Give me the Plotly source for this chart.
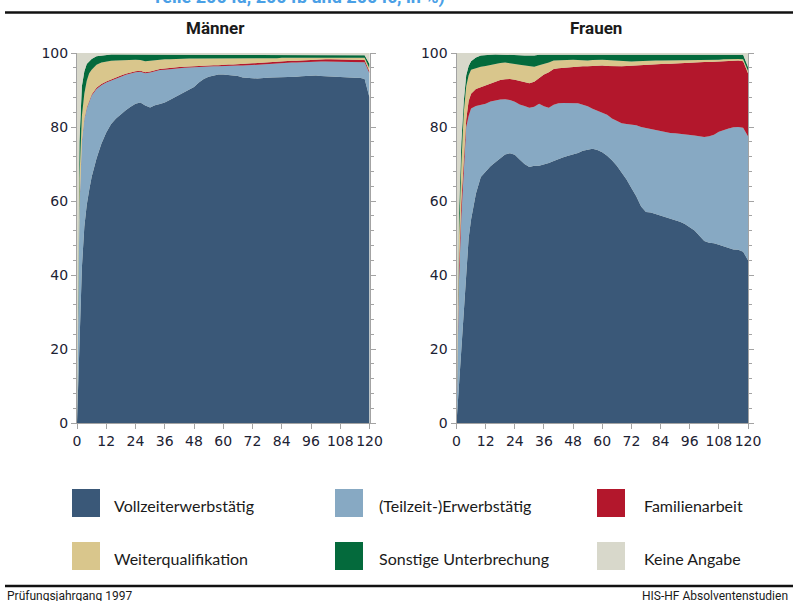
import plotly.graph_objects as go

W, H = 793, 601

# Monate nach Studienabschluss
monate = [0, 1, 2, 3, 4, 5, 6, 8, 10, 12, 14, 16, 18, 20, 22, 24, 26, 28, 30, 32,
          34, 36, 38, 40, 42, 44, 46, 48, 50, 52, 54, 56, 58, 60, 62, 64, 66, 68,
          70, 72, 74, 76, 78, 80, 82, 84, 86, 88, 90, 92, 94, 96, 98, 100, 102,
          104, 106, 108, 110, 112, 114, 116, 118, 120]

serien = ["Vollzeiterwerbstätig", "(Teilzeit-)Erwerbstätig", "Familienarbeit",
          "Weiterqualifikation", "Sonstige Unterbrechung", "Keine Angabe"]
farben = ["#3A5878", "#87A9C3", "#B3172C", "#D9C68C", "#046A3C", "#D8D8CB"]

panel_titel = ["Männer", "Frauen"]
x_ticks = [0, 12, 24, 36, 48, 60, 72, 84, 96, 108, 120]
y_ticks = [0, 20, 40, 60, 80, 100]

# ---- Männer (Anteile in %) ----
m_vollzeit = [0, 22, 42, 53, 59, 63, 66.5, 71.5, 75.5, 78.5, 80.8, 82.3, 83.5, 84.5, 85.5,
              86.3, 86.6, 85.8, 85.3, 85.9, 86.2, 86.6, 87.3, 88.0, 88.6, 89.3, 90.0, 90.8,
              92.0, 93.0, 93.6, 94.0, 94.2, 94.2, 94.1, 94.1, 93.8, 93.4, 93.2, 93.2, 93.1,
              93.3, 93.3, 93.4, 93.4, 93.5, 93.5, 93.5, 93.6, 93.7, 93.8, 93.8, 93.9, 93.8,
              93.7, 93.7, 93.6, 93.5, 93.5, 93.4, 93.3, 93.3, 93.0, 88.0]
m_teilzeit = [0, 36, 34, 29, 26, 24, 22, 18.8, 15.8, 13.5, 11.8, 10.8, 10.1, 9.6, 9.0, 8.5,
              8.3, 8.7, 9.4, 9.2, 9.2, 8.9, 8.4, 7.8, 7.3, 6.7, 6.1, 5.3, 4.2, 3.2, 2.7, 2.4,
              2.2, 2.3, 2.4, 2.4, 2.8, 3.2, 3.5, 3.6, 3.8, 3.7, 3.7, 3.7, 3.8, 3.8, 3.8, 3.9,
              3.8, 3.8, 3.7, 3.8, 3.7, 3.9, 4.0, 4.0, 4.1, 4.2, 4.2, 4.3, 4.4, 4.4, 4.5, 6.5]
m_familie = [0, 0.3, 0.3, 0.3, 0.3, 0.3, 0.3, 0.3, 0.3, 0.3, 0.3, 0.3, 0.3, 0.3, 0.3, 0.3,
             0.3, 0.3, 0.3, 0.3, 0.3, 0.3, 0.3, 0.3, 0.3, 0.3, 0.3, 0.3, 0.3, 0.3, 0.3, 0.3,
             0.3, 0.4, 0.4, 0.4, 0.4, 0.4, 0.4, 0.4, 0.4, 0.4, 0.4, 0.5, 0.5, 0.5, 0.5, 0.5,
             0.5, 0.5, 0.5, 0.5, 0.5, 0.6, 0.6, 0.6, 0.6, 0.6, 0.6, 0.6, 0.6, 0.6, 0.6, 0.5]
m_weiterq = [0, 7.7, 6.7, 6.7, 7.2, 7.2, 6.7, 6.2, 5.8, 5.4, 5.0, 4.6, 4.2, 3.8, 3.4, 3.1,
             2.9, 3.0, 2.9, 2.7, 2.5, 2.5, 2.3, 2.3, 2.2, 2.2, 2.1, 2.1, 2.0, 1.9, 1.8, 1.7,
             1.7, 1.5, 1.5, 1.5, 1.4, 1.4, 1.4, 1.3, 1.2, 1.1, 1.1, 1.0, 0.9, 0.9, 0.9, 0.9,
             0.8, 0.8, 0.8, 0.7, 0.7, 0.5, 0.5, 0.5, 0.5, 0.5, 0.6, 0.6, 0.6, 0.6, 0.6, 0.8]
m_sonstige = [0, 10, 8, 6, 4.5, 3.3, 2.9, 2.3, 1.9, 1.8, 1.7, 1.6, 1.5, 1.4, 1.4, 1.4,
              1.5, 1.8, 1.7, 1.5, 1.4, 1.3, 1.3, 1.2, 1.2, 1.1, 1.1, 1.1, 1.1, 1.2, 1.2, 1.2,
              1.2, 1.2, 1.2, 1.2, 1.2, 1.2, 1.1, 1.1, 1.1, 1.1, 1.1, 1.0, 1.0, 0.9, 0.9, 0.8,
              0.9, 0.8, 0.8, 0.8, 0.8, 0.8, 0.8, 0.8, 0.8, 0.8, 0.7, 0.7, 0.7, 0.7, 0.7, 1.2]
m_keine = [100, 24, 9, 5, 3, 2.2, 1.6, 0.9, 0.7, 0.5, 0.4, 0.4, 0.4, 0.4, 0.4, 0.4,
           0.4, 0.4, 0.4, 0.4, 0.4, 0.4, 0.4, 0.4, 0.4, 0.4, 0.4, 0.4, 0.4, 0.4, 0.4, 0.4,
           0.4, 0.4, 0.4, 0.4, 0.4, 0.4, 0.4, 0.4, 0.4, 0.4, 0.4, 0.4, 0.4, 0.4, 0.4, 0.4,
           0.4, 0.4, 0.4, 0.4, 0.4, 0.4, 0.4, 0.4, 0.4, 0.4, 0.4, 0.4, 0.4, 0.4, 0.6, 3.0]

# ---- Frauen (Anteile in %) ----
f_vollzeit = [0, 10, 22, 33, 43, 50, 55, 62, 66.5, 68, 69.4, 70.5, 71.6, 72.6, 72.9, 72.5,
              71.2, 70.0, 69.2, 69.5, 69.5, 69.8, 70.3, 70.8, 71.4, 71.8, 72.2, 72.5, 73.0,
              73.6, 73.9, 74.1, 73.8, 73.2, 72.2, 71.0, 69.5, 67.8, 65.8, 63.5, 61.3, 58.5,
              57.0, 56.9, 56.5, 56.0, 55.5, 55.1, 54.8, 54.4, 53.8, 53.0, 52.0, 50.6, 49.2,
              48.7, 48.6, 48.2, 47.8, 47.3, 46.9, 46.8, 46.3, 44.0]
f_teilzeit = [0, 28, 34, 37, 37, 33, 30, 23.7, 19.5, 18.3, 17.5, 16.7, 15.8, 14.9, 14.4,
              14.3, 14.9, 15.7, 16.0, 16.0, 16.8, 15.8, 14.9, 15.2, 15.0, 14.7, 14.3, 14.0,
              13.4, 12.4, 11.7, 10.8, 10.5, 10.7, 11.1, 11.3, 12.1, 13.2, 15.0, 17.2, 19.2,
              21.5, 22.7, 22.6, 22.8, 22.8, 23.1, 23.3, 23.5, 23.8, 24.3, 24.9, 25.7, 26.9,
              28.1, 28.8, 29.3, 30.5, 31.4, 32.3, 33.0, 33.2, 33.5, 33.5]
f_familie = [0, 4, 4, 2, 2, 4, 4, 4.6, 4.8, 4.9, 4.7, 5.0, 5.3, 5.4, 5.7, 6.0, 6.3, 6.3,
             6.6, 6.7, 7.0, 8.6, 9.6, 9.7, 9.5, 9.5, 9.7, 9.9, 10.0, 10.4, 10.8, 11.6, 12.3,
             12.7, 13.2, 14.1, 14.8, 15.4, 15.7, 15.9, 16.1, 16.7, 17.1, 17.3, 17.6, 18.2,
             18.5, 18.7, 18.9, 19.1, 19.2, 19.5, 19.7, 20.0, 20.3, 20.1, 19.8, 19.0, 18.6,
             18.3, 18.1, 18.0, 18.0, 17.0]
f_weiterq = [0, 8, 10, 12, 9, 7, 6.5, 5.7, 5.5, 5.3, 5.2, 4.9, 4.6, 4.5, 4.3, 4.2, 4.4,
             4.6, 4.6, 4.1, 3.4, 2.8, 2.6, 2.3, 2.2, 2.2, 2.0, 1.8, 1.7, 1.6, 1.6, 1.6, 1.6,
             1.6, 1.6, 1.6, 1.6, 1.5, 1.3, 1.1, 1.2, 1.2, 1.2, 1.2, 1.1, 1.0, 0.9, 1.0, 0.9,
             0.9, 0.9, 0.8, 0.7, 0.5, 0.5, 0.6, 0.5, 0.5, 0.5, 0.5, 0.4, 0.4, 0.5, 0.7]
f_sonstige = [0, 6, 6, 3, 3, 2.5, 2.3, 2.8, 3.0, 3.0, 2.7, 2.5, 2.3, 2.2, 2.3, 2.5, 2.6,
              2.7, 2.8, 3.0, 2.8, 2.5, 2.2, 1.7, 1.6, 1.5, 1.5, 1.5, 1.5, 1.6, 1.6, 1.5, 1.4,
              1.4, 1.5, 1.5, 1.5, 1.6, 1.7, 1.8, 1.7, 1.6, 1.5, 1.5, 1.5, 1.5, 1.5, 1.4, 1.4,
              1.3, 1.3, 1.3, 1.4, 1.5, 1.4, 1.3, 1.3, 1.3, 1.2, 1.2, 1.2, 1.2, 1.2, 1.0]
f_keine = [100, 44, 24, 13, 6, 3.5, 2.2, 1.2, 0.7, 0.5, 0.5, 0.4, 0.4, 0.4, 0.4, 0.5, 0.6,
           0.7, 0.8, 0.7, 0.5, 0.5, 0.4, 0.3, 0.3, 0.3, 0.3, 0.3, 0.4, 0.4, 0.4, 0.4, 0.4,
           0.4, 0.4, 0.5, 0.5, 0.5, 0.5, 0.5, 0.5, 0.5, 0.5, 0.5, 0.5, 0.5, 0.5, 0.5, 0.5,
           0.5, 0.5, 0.5, 0.5, 0.5, 0.5, 0.5, 0.5, 0.5, 0.5, 0.4, 0.4, 0.4, 0.5, 3.8]

maenner = [m_vollzeit, m_teilzeit, m_familie, m_weiterq, m_sonstige, m_keine]
frauen = [f_vollzeit, f_teilzeit, f_familie, f_weiterq, f_sonstige, f_keine]

fig = go.Figure()
for panel, (daten, xa, ya) in enumerate([(maenner, "x", "y"), (frauen, "x2", "y2")]):
    for name, werte, farbe in zip(serien, daten, farben):
        fig.add_trace(go.Scatter(
            x=monate, y=werte, name=name, xaxis=xa, yaxis=ya,
            stackgroup="g%d" % panel, mode="lines",
            line=dict(width=0, color=farbe), fillcolor=farbe,
            showlegend=False, hoverinfo="skip"))

def px(x):
    return x / W

def py(y):
    return 1 - y / H

tickfont = dict(family="DejaVu Sans, Verdana, sans-serif", size=14, color="#1c2233")
axis_common = dict(showgrid=False, zeroline=False, showline=True, linecolor="#a3a3a3",
                   linewidth=1, ticks="outside", tickcolor="#a3a3a3", ticklen=5,
                   tickfont=tickfont, automargin=False)

y_dom = [py(423), py(53)]
fig.update_layout(
    width=W, height=H, margin=dict(l=0, r=0, t=0, b=0, autoexpand=False),
    paper_bgcolor="white", plot_bgcolor=farben[5],
    xaxis=dict(domain=[px(77), px(369.5)], range=[0, 120], tickvals=x_ticks,
               anchor="y", **axis_common),
    yaxis=dict(domain=y_dom, range=[0, 100], tickvals=y_ticks, anchor="x",
               mirror="ticks", minor=dict(dtick=4, ticks="outside", ticklen=3,
                                          tickcolor="#a3a3a3"), **axis_common),
    xaxis2=dict(domain=[px(456.5), px(748)], range=[0, 120], tickvals=x_ticks,
                anchor="y2", **axis_common),
    yaxis2=dict(domain=y_dom, range=[0, 100], tickvals=y_ticks, anchor="x2",
                mirror="ticks", minor=dict(dtick=4, ticks="outside", ticklen=3,
                                           tickcolor="#a3a3a3"), **axis_common),
)

annotations = []
shapes = []

# Panel-Titel
for titel, cx in zip(panel_titel, [215, 596]):
    annotations.append(dict(text="<b>%s</b>" % titel, x=px(cx), y=py(28), xref="paper",
                            yref="paper", showarrow=False, xanchor="center",
                            yanchor="middle",
                            font=dict(family="Liberation Sans Narrow, Roboto, sans-serif",
                                      size=17, color="#1a1a1a")))

# Kopfzeile (abgeschnittener Untertitel) und Linien
annotations.append(dict(text="<b>Teile 2004a, 2004b und 2004c, in %)</b>", x=px(150),
                        y=py(10.5), xref="paper", yref="paper", showarrow=False,
                        xanchor="left", yanchor="bottom",
                        font=dict(family="Liberation Sans Narrow, Roboto, sans-serif",
                                  size=18, color="#4aa0e6")))
shapes.append(dict(type="line", xref="paper", yref="paper", x0=px(5), x1=1,
                   y0=py(12.5), y1=py(12.5), line=dict(color="#111111", width=2.5)))
shapes.append(dict(type="line", xref="paper", yref="paper", x0=px(5), x1=1,
                   y0=py(586), y1=py(586), line=dict(color="#111111", width=2.5)))

# Legende (3 Spalten x 2 Zeilen)
leg_sq_x = [72, 335, 597]
leg_tx_x = [112, 377, 642]
leg_cy = [503, 556]
for i, (name, farbe) in enumerate(zip(serien, farben)):
    r, c = divmod(i, 3)
    cy = leg_cy[r]
    shapes.append(dict(type="rect", xref="paper", yref="paper",
                       x0=px(leg_sq_x[c]), x1=px(leg_sq_x[c] + 28),
                       y0=py(cy - 14), y1=py(cy + 14),
                       fillcolor=farbe, line=dict(width=0)))
    annotations.append(dict(text=name, x=px(leg_tx_x[c]), y=py(cy + 2), xref="paper",
                            yref="paper", showarrow=False, xanchor="left",
                            yanchor="middle",
                            font=dict(family="Lato, Open Sans, sans-serif", size=16,
                                      color="#1a1a1a")))

# Fußzeile
annotations.append(dict(text="Prüfungsjahrgang 1997", x=px(5), y=py(596), xref="paper",
                        yref="paper", showarrow=False, xanchor="left", yanchor="middle",
                        font=dict(family="Liberation Sans Narrow, Roboto, sans-serif",
                                  size=12, color="#1a1a1a")))
annotations.append(dict(text="HIS-HF Absolventenstudien", x=px(790), y=py(596),
                        xref="paper", yref="paper", showarrow=False, xanchor="right",
                        yanchor="middle",
                        font=dict(family="Liberation Sans Narrow, Roboto, sans-serif",
                                  size=12, color="#1a1a1a")))

fig.update_layout(annotations=annotations, shapes=shapes)
fig.write_html("out.html", config={"displayModeBar": False},
               post_script="document.body.style.margin='0';"
                           "document.body.style.padding='0';")
